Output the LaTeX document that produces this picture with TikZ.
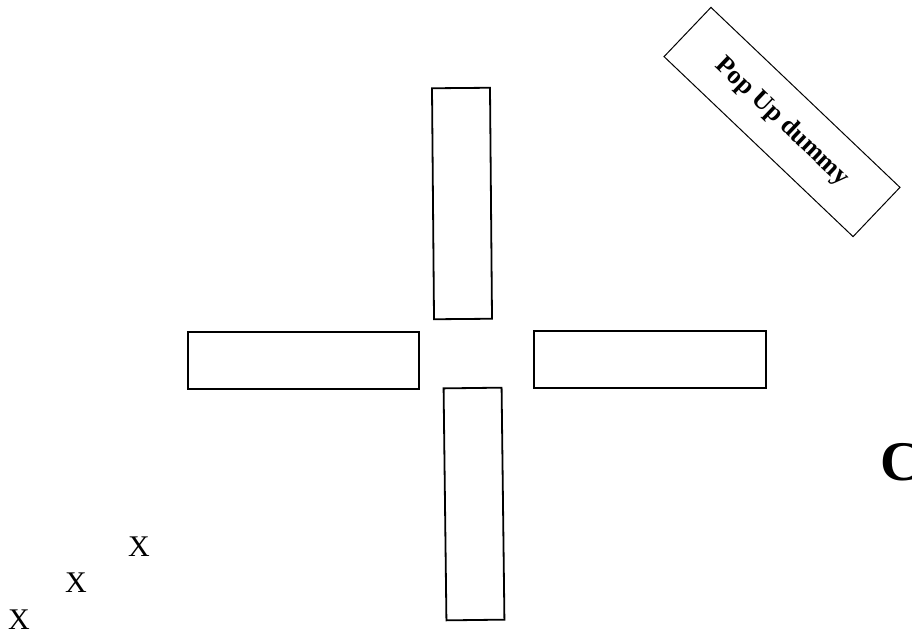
\documentclass[tikz,border=0pt]{standalone}
\usepackage{fontspec}
\setmainfont{Liberation Serif}
\usepackage{tikz}

\begin{document}
\begin{tikzpicture}[x=1pt,y=-1pt,
        bar/.style={draw,line width=1.8pt,inner sep=0pt},
        tag/.style={draw,line width=1pt,inner sep=0pt,font=\fontsize{26}{28}\selectfont\bfseries}]
        \useasboundingbox (0,0) rectangle (912,635);
        \node[bar,minimum width=58pt,minimum height=231pt,rotate=0.5] (north) at (462,203.5) {};
        \node[bar,minimum width=58pt,minimum height=232pt,rotate=0.7] (south) at (474,504) {};
        \node[bar,minimum width=231pt,minimum height=57pt] (west) at (303.5,360.5) {};
        \node[bar,minimum width=232pt,minimum height=57pt] (east) at (650,359.5) {};
        
        % rotated label
        \node[tag,minimum width=261pt,minimum height=68pt,rotate=-43.6] (popup) at (782,122) {Pop Up dummy};
        
        \node[font=\fontsize{56}{60}\selectfont\bfseries,anchor=west,inner sep=0pt] (cee) at (880,462) {C};
        \node[font=\fontsize{30}{32}\selectfont] (x1) at (139,547) {X};
        \node[font=\fontsize{30}{32}\selectfont] (x2) at (76,583) {X};
        \node[font=\fontsize{30}{32}\selectfont] (x3) at (19,620) {X};
    \end{tikzpicture}
\end{document}
